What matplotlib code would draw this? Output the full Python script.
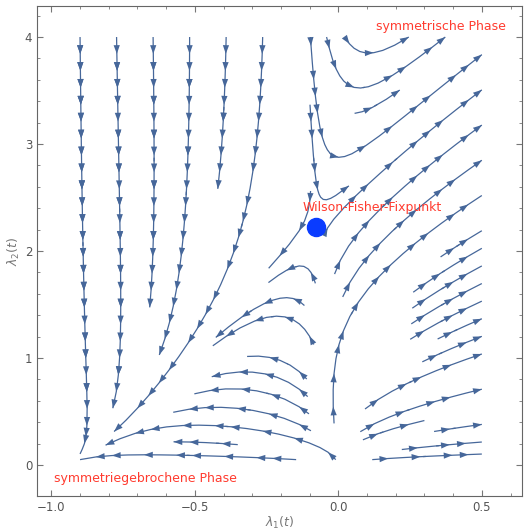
import numpy as np
import matplotlib.pyplot as plt
from matplotlib.patches import FancyArrowPatch

# LPA-artige Flussgleichungen (Richtung IR), Koeffizienten aus dem Bild geschaetzt
a = 0.0585          # Kopplung in beta_1
b = 0.351           # Kopplung in beta_2
x_range = [-0.9, 0.5]
y_range = [0.05, 4.0]
fp = [-0.077, 2.22]  # Wilson-Fisher-Fixpunkt

labels = ["symmetrische Phase", "Wilson-Fisher-Fixpunkt", "symmetriegebrochene Phase"]

col = '#46679a'
grey = '#777777'


def flow(l1, l2):
    u = 2*l1 + a*l2/(1+l1)**2
    v = l2 - b*l2**2/(1+l1)**3
    return u, v


X = np.linspace(x_range[0], x_range[1], 140)
Y = np.linspace(y_range[0], y_range[1], 140)
L1, L2 = np.meshgrid(X, Y)
U, V = flow(L1, L2)

fig = plt.figure(figsize=(5.27, 5.31), dpi=100)
ax = fig.add_axes([37/527, 1-496/531, (522-37)/527, (496-6)/531])

ax.set_xlim(-1.05, 0.64)
ax.set_ylim(-0.29, 4.29)

strm = ax.streamplot(X, Y, U, V, density=(0.42, 0.85), color=col, linewidth=0.9,
                     arrowstyle='-')

# Pfeile entlang jeder Stromlinie (wie in Mathematica), dichter wo es schnell fliesst
sx, sy = 286.0, 107.0
for ln in strm.lines.get_segments():
    if len(ln) < 3:
        continue
    d = np.hypot(np.diff(ln[:, 0])*sx, np.diff(ln[:, 1])*sy)
    s = np.concatenate([[0], np.cumsum(d)])
    if s[-1] < 12:
        continue
    p = 8.0
    while p < s[-1] - 2:
        i = np.searchsorted(s, p)
        i = min(max(i, 1), len(ln)-1)
        ax.add_patch(FancyArrowPatch(ln[i-1], ln[i], arrowstyle='-|>,head_length=0.9,head_width=0.32',
                                     mutation_scale=7, color=col, lw=0,
                                     shrinkA=0, shrinkB=0, zorder=3))
        uu, vv = flow(ln[i, 0], ln[i, 1])
        sp = np.hypot(uu, vv)
        p += 34.0/(1+np.log10(1+sp))

ax.plot(fp[0], fp[1], 'o', color='#0a3cff', markersize=13, zorder=5)

ax.text(0.13, 4.1, labels[0], color='#ff3b2f', fontsize=9, va='center')
ax.text(-0.125, 2.41, labels[1], color='#ff3b2f', fontsize=9, va='center')
ax.text(-0.99, -0.13, labels[2], color='#ff3b2f', fontsize=9, va='center')

ax.set_xticks([-1.0, -0.5, 0.0, 0.5])
ax.set_xticklabels(['\u22121.0', '\u22120.5', '0.0', '0.5'])
ax.set_yticks([0, 1, 2, 3, 4])
ax.set_xticks(np.arange(-1.0, 0.61, 0.1), minor=True)
ax.set_yticks(np.arange(0, 4.21, 0.2), minor=True)
ax.tick_params(which='both', direction='in', top=True, right=True, colors=grey,
               labelsize=8.5, labelcolor='#555555')
ax.tick_params(which='major', length=4)
ax.tick_params(which='minor', length=2)
for spn in ax.spines.values():
    spn.set_color('#666666')

ax.set_xlabel(r'$\lambda_1(t)$', color=grey, fontsize=9, labelpad=1)
ax.set_ylabel(r'$\lambda_2(t)$', color=grey, fontsize=9, labelpad=2)

plt.savefig('out.png')
